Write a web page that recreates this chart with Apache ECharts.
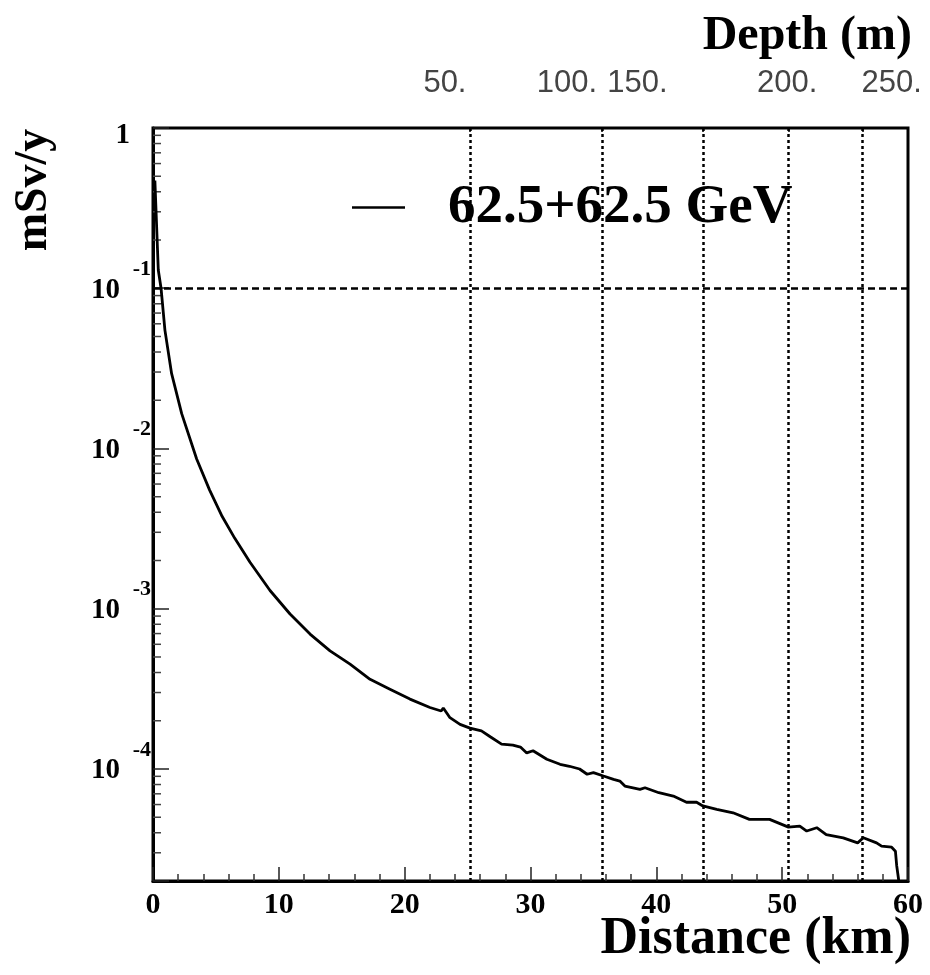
<!DOCTYPE html>
<html>
<head>
<meta charset="utf-8">
<script src="https://cdn.jsdelivr.net/npm/echarts@6/dist/echarts.min.js"></script>
<style>
html,body{margin:0;padding:0;background:#fff;}
#chart{width:930px;height:975px;}
</style>
</head>
<body>
<div id="chart"></div>
<script>
// ---- data ----
const distanceKm = [0.15,0.42,0.64,0.95,1.48,2.28,3.47,4.5,5.5,6.5,7.71,9.3,10.89,12.48,14.07,15.66,17.25,18.83,20.42,22.01,22.9,23.07,23.6,24.4,25.19,26.1,26.8,27.7,28.6,29.2,29.7,30.2,31.3,32.35,33.1,33.9,34.5,35.0,35.8,36.6,37.1,37.5,38.7,39.1,40.2,41.35,42.4,43.2,43.7,44.8,46.1,47.4,49.0,50.5,51.4,51.95,52.75,53.5,54.85,56.0,56.45,57.5,57.9,58.7,59.0,59.1,59.35];
const doseMsvPerYear = [0.47,0.13,0.1,0.0546,0.0293,0.0165,8.6e-3,5.5e-3,3.76e-3,2.75e-3,1.95e-3,1.30e-3,9.27e-4,6.95e-4,5.46e-4,4.51e-4,3.63e-4,3.15e-4,2.73e-4,2.42e-4,2.30e-4,2.40e-4,2.09e-4,1.90e-4,1.80e-4,1.73e-4,1.59e-4,1.43e-4,1.41e-4,1.37e-4,1.26e-4,1.30e-4,1.15e-4,1.07e-4,1.04e-4,1.00e-4,9.27e-5,9.5e-5,9.04e-5,8.62e-5,8.41e-5,7.83e-5,7.46e-5,7.64e-5,7.11e-5,6.78e-5,6.2e-5,6.2e-5,5.88e-5,5.6e-5,5.33e-5,4.85e-5,4.85e-5,4.34e-5,4.4e-5,4.1e-5,4.3e-5,3.9e-5,3.72e-5,3.46e-5,3.72e-5,3.46e-5,3.3e-5,3.25e-5,3.07e-5,2.5e-5,1.8e-5];
const seriesName = '62.5+62.5 GeV';
const limitDose = 0.1;                       // horizontal dashed reference
const depthLineKm = [25.2, 35.7, 43.7, 50.5, 56.4]; // distance where depth = 50..250 m
const depthLabels = ['50.', '100.', '150.', '200.', '250.'];
const depthLabelKm = [23.2, 32.9, 38.5, 50.4, 58.7];  // where the labels sit
const xTickValues = [0, 10, 20, 30, 40, 50, 60];
const yTickExponents = [0, -1, -2, -3, -4];
const yMinorMantissas = [2, 3, 4, 5, 6, 7, 8, 9];
const yMinorDecades = [-5, -4, -3, -2, -1];

const yMin = 2e-5, yMax = 1;
const serif = 'Liberation Serif';

const curve = distanceKm.map((d, i) => [d, doseMsvPerYear[i]]);
const minorY = [];
yMinorDecades.forEach(e => yMinorMantissas.forEach(m => {
  const v = m * Math.pow(10, e);
  if (v > yMin && v < yMax) minorY.push([0, v]);
}));
function decadeOf(v) {
  const e = Math.round(Math.log10(v));
  if (Math.abs(Math.log10(v) - e) > 1e-6 || yTickExponents.indexOf(e) < 0) return null;
  return e;
}

const chart = echarts.init(document.getElementById('chart'), null, {renderer: 'canvas'});
const option = {
  animation: false,
  backgroundColor: '#fff',
  grid: {left: 153, right: 22, top: 128, bottom: 94, show: true, borderColor: '#000', borderWidth: 3, containLabel: false},
  title: [
    {text: 'Depth (m)', right: 18, top: 13, padding: 0, textStyle: {fontFamily: serif, fontWeight: 'bold', fontSize: 48, color: '#000'}},
    {text: 'Distance (km)', right: 19, top: 914, padding: 0, textStyle: {fontFamily: serif, fontWeight: 'bold', fontSize: 52, color: '#000'}}
  ],
  graphic: [{
    type: 'text', x: 34, y: 190, rotation: Math.PI / 2,
    style: {text: 'mSv/y', font: 'bold 46px "Liberation Serif"', fill: '#000',
            textAlign: 'center', textVerticalAlign: 'middle', align: 'center', verticalAlign: 'middle'}
  }],
  legend: {
    left: 352, top: 180, padding: 0, itemWidth: 53, itemHeight: 2.5,
    data: [{name: seriesName, icon: 'rect'}],
    itemStyle: {color: '#000'},
    textStyle: {fontFamily: serif, fontWeight: 'bold', fontSize: 55, color: '#000', padding: [0, 0, 0, 38]}
  },
  xAxis: [{
    type: 'value', min: 0, max: 60, interval: 10,
    axisLine: {show: true, lineStyle: {color: '#000', width: 3}},
    axisTick: {show: true, inside: true, length: 14, lineStyle: {color: '#222', width: 1.5}},
    minorTick: {show: true, splitNumber: 5, length: 7, lineStyle: {color: '#333', width: 1.5}},
    splitLine: {show: false},
    axisLabel: {margin: 9, fontFamily: serif, fontWeight: 'bold', fontSize: 30, color: '#000',
      formatter: v => xTickValues.indexOf(v) >= 0 ? String(v) : ''}
  }, {
    type: 'value', min: 0, max: 60, position: 'top',
    axisLine: {show: false},
    splitLine: {show: false},
    axisTick: {show: true, inside: true, length: 4, customValues: depthLineKm, lineStyle: {color: '#000', width: 1.5}},
    axisLabel: {show: true, customValues: depthLabelKm, margin: 29, fontFamily: 'Liberation Sans', fontSize: 31, color: '#444',
      formatter: v => {
        let best = 0;
        depthLabelKm.forEach((k, i) => { if (Math.abs(k - v) < Math.abs(depthLabelKm[best] - v)) best = i; });
        return depthLabels[best];
      }}
  }],
  yAxis: [{
    type: 'log', logBase: 10, min: yMin, max: yMax, position: 'left',
    axisLine: {show: true, lineStyle: {color: '#000', width: 3}},
    axisTick: {show: true, inside: true, length: 16, lineStyle: {color: '#222', width: 1.5}},
    splitLine: {show: false},
    axisLabel: {
      margin: 23,
      formatter: v => {
        const e = decadeOf(v);
        if (e === null) return '';
        return e === 0 ? '{one|1}' : '{b|10}';
      },
      rich: {
        b: {fontFamily: serif, fontWeight: 'bold', fontSize: 29, lineHeight: 29, color: '#000', padding: [4, 10, 0, 0]},
        one: {fontFamily: serif, fontWeight: 'bold', fontSize: 29, lineHeight: 29, color: '#000', padding: [16, 0, 0, 0]}
      }
    }
  }, {
    type: 'log', logBase: 10, min: yMin, max: yMax, position: 'left',
    axisLine: {show: false}, axisTick: {show: false}, splitLine: {show: false},
    axisLabel: {
      margin: 2,
      formatter: v => {
        const e = decadeOf(v);
        return (e === null || e === 0) ? '' : '{s|' + e + '}';
      },
      rich: {
        s: {fontFamily: serif, fontWeight: 'bold', fontSize: 22, lineHeight: 22, color: '#000', padding: [0, 0, 38, 0]}
      }
    }
  }],
  series: [{
    name: seriesName, type: 'line', data: curve, showSymbol: false, clip: true, z: 5,
    lineStyle: {color: '#000', width: 2.8}, itemStyle: {color: '#000'},
    markLine: {
      silent: true, symbol: ['none', 'none'], label: {show: false},
      data: [
        {yAxis: limitDose, lineStyle: {type: [7, 4], width: 2.5, color: '#000'}},
        ...depthLineKm.map(k => ({xAxis: k, lineStyle: {type: [3, 3], width: 2.5, color: '#000'}}))
      ]
    }
  }, {
    type: 'custom', data: minorY, silent: true, z: 4,
    renderItem: (params, api) => {
      const p = api.coord([0, api.value(1)]);
      return {type: 'line', shape: {x1: p[0], y1: p[1], x2: p[0] + 8, y2: p[1]}, style: {stroke: '#444', lineWidth: 1.5}};
    }
  }]
};
chart.setOption(option);
</script>
</body>
</html>
